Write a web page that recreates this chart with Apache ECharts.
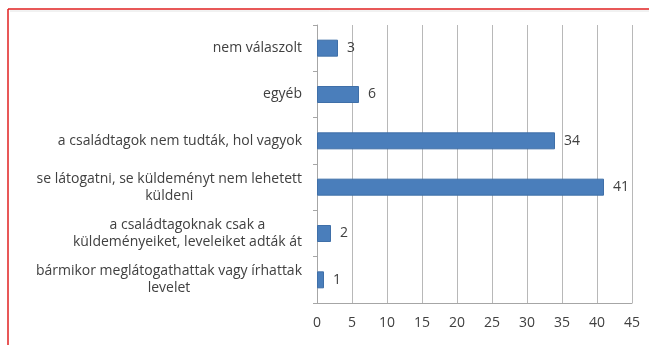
<!DOCTYPE html>
<html>
<head>
<meta charset="utf-8">
<script src="https://cdn.jsdelivr.net/npm/echarts@6/dist/echarts.min.js"></script>
<style>
html,body{margin:0;padding:0;background:#fff;}
#c{width:649px;height:345px;}
</style>
</head>
<body>
<div id="c"></div>
<script>
var categories = [
  "bármikor meglátogathattak vagy írhattak\nlevelet",
  "a családtagoknak csak a\nküldeményeiket, leveleiket adták át",
  "se látogatni, se küldeményt nem lehetett\nküldeni",
  "a családtagok nem tudták, hol vagyok",
  "egyéb",
  "nem válaszolt"
];
var values = [1, 2, 41, 34, 6, 3];
var xTicks = [0, 5, 10, 15, 20, 25, 30, 35, 40, 45];

var chart = echarts.init(document.getElementById('c'), null, {renderer: 'canvas'});
var FONT = 'Open Sans';
var FS = 14;
chart.setOption({
  backgroundColor: '#ffffff',
  animation: false,
  grid: {left: 317, right: 17, top: 25, bottom: 42, containLabel: false},
  xAxis: {
    type: 'value',
    min: xTicks[0],
    max: xTicks[xTicks.length - 1],
    interval: 5,
    axisLine: {show: true, lineStyle: {color: '#a6a6a6', width: 1}},
    axisTick: {show: false},
    splitLine: {show: true, lineStyle: {color: '#b8b8b8', width: 1}},
    axisLabel: {color: '#404040', fontFamily: FONT, fontSize: FS, margin: 13}
  },
  yAxis: {
    type: 'category',
    data: categories,
    axisLine: {show: true, lineStyle: {color: '#a6a6a6', width: 1}},
    axisTick: {show: true, length: 4, lineStyle: {color: '#a6a6a6'}},
    splitLine: {show: false},
    axisLabel: {
      color: '#404040',
      fontFamily: FONT,
      fontSize: FS,
      margin: 15,
      lineHeight: 17,
      formatter: function (v) {
        return v.split('\n').map(function (l) { return '{c|' + l + '}'; }).join('\n');
      },
      rich: {c: {align: 'center', color: '#404040', fontFamily: FONT, fontSize: FS, lineHeight: 17}}
    }
  },
  series: [{
    type: 'bar',
    data: values,
    barWidth: 17,
    itemStyle: {color: '#4a7ebb', borderColor: '#3f6fa8', borderWidth: 1},
    label: {
      show: true,
      position: 'right',
      distance: 9,
      color: '#404040',
      fontFamily: FONT,
      fontSize: FS
    }
  }],
  graphic: [
    {type: 'line', shape: {x1: 8, y1: 9, x2: 649, y2: 9}, style: {stroke: '#e02020', lineWidth: 1.5}},
    {type: 'line', shape: {x1: 8, y1: 9, x2: 8, y2: 345}, style: {stroke: '#e02020', lineWidth: 1.5}},
    {type: 'line', shape: {x1: 10, y1: 11, x2: 649, y2: 11}, style: {stroke: '#e4e4e4', lineWidth: 1}}
  ]
});
</script>
</body>
</html>
